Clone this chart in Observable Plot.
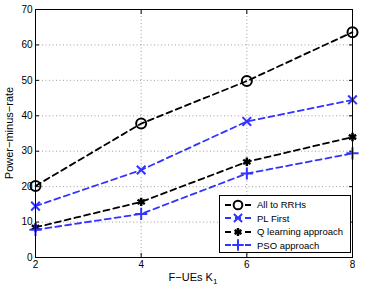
<!DOCTYPE html>
<html><head><meta charset="utf-8">
<script src="https://cdn.jsdelivr.net/npm/d3@7"></script>
<script src="https://cdn.jsdelivr.net/npm/@observablehq/plot@0.6"></script>
<style>
body{margin:0;background:#fff;font-family:"Liberation Sans",Arial,sans-serif;}
#wrap{position:relative;width:374px;height:292px;}
#legend{position:absolute;left:219px;top:195px;width:132px;height:58px;border:1px solid #000;background:#fff;font-size:9.5px;box-sizing:border-box;padding-top:2px;white-space:nowrap}
#legend .row{display:flex;align-items:center;height:13.5px}
#legend svg{margin-left:4px;margin-right:5px;flex:none}
</style></head><body>
<div id="wrap"></div>
<script>
const K = [2, 4, 6, 8];
const seriesNames = ["All to RRHs", "PL First", "Q learning approach", "PSO approach"];
const allToRRHs = [20.2, 37.8, 49.8, 63.6];
const plFirst = [14.5, 24.7, 38.4, 44.5];
const qLearning = [8.5, 15.7, 27.0, 34.0];
const pso = [7.8, 12.3, 23.7, 29.4];
const yTicks = [0, 10, 20, 30, 40, 50, 60, 70];
const xTicks = [2, 4, 6, 8];

const colors = ["#000000", "#3333ff", "#000000", "#3333ff"];
const symbols = ["circle", "times", "asterisk", "plus"];
const allVals = [allToRRHs, plFirst, qLearning, pso];
const data = [];
allVals.forEach((vals, i) => vals.forEach((v, j) => data.push({s: seriesNames[i], k: K[j], v})));

const marks = [
  Plot.gridX(xTicks, {stroke: "#888", strokeOpacity: 1, strokeDasharray: "1,2.5", strokeWidth: 0.8}),
  Plot.gridY(yTicks, {stroke: "#888", strokeOpacity: 1, strokeDasharray: "1,2.5", strokeWidth: 0.8}),
  Plot.axisX(xTicks, {tickSize: -4, tickPadding: 7, fontSize: 10, label: null}),
  Plot.axisX(xTicks, {anchor: "top", tickSize: -4, tickFormat: () => "", label: null}),
  Plot.axisY(yTicks, {tickSize: -4, tickPadding: 7, fontSize: 10, label: null}),
  Plot.axisY(yTicks, {anchor: "right", tickSize: -4, tickFormat: () => "", label: null}),
];
seriesNames.forEach((name, i) => {
  const d = data.filter(r => r.s === name);
  marks.push(Plot.line(d, {x: "k", y: "v", stroke: colors[i], strokeWidth: 1.8, strokeDasharray: "6,4"}));
  marks.push(Plot.dot(d, {x: "k", y: "v", symbol: () => symbols[i], stroke: colors[i], strokeWidth: i === 2 ? 2.5 : 2, r: i === 0 ? 5 : 4, fill: i === 2 ? colors[i] : "none"}));
});
marks.push(Plot.frame({stroke: "#000", strokeWidth: 1}));

const chart = Plot.plot({
  width: 374, height: 292,
  marginLeft: 35, marginRight: 22, marginTop: 9, marginBottom: 35,
  style: {fontFamily: "Liberation Sans, Arial, sans-serif", fontSize: "10px", background: "#fff", color: "#000"},
  x: {domain: [2, 8]},
  y: {domain: [0, 70]},
  marks
});
const wrap = document.getElementById("wrap");
wrap.appendChild(chart);

// axis labels
const svg = d3.select(chart);
svg.append("text").attr("x", 193).attr("y", 281).attr("text-anchor", "middle")
  .attr("font-size", 11).attr("font-family", "Liberation Sans, Arial, sans-serif")
  .html('F−UEs K<tspan dy="3" font-size="8">1</tspan>');
svg.append("text").attr("transform", "translate(13,133) rotate(-90)").attr("text-anchor", "middle")
  .attr("font-size", 11).attr("font-family", "Liberation Sans, Arial, sans-serif")
  .text("Power−minus−rate");

// legend
const leg = document.createElement("div");
leg.id = "legend";
const symMap = {circle: d3.symbolCircle, times: d3.symbolTimes, asterisk: d3.symbolAsterisk, plus: d3.symbolPlus};
seriesNames.forEach((name, i) => {
  const row = document.createElement("div");
  row.className = "row";
  const s = d3.create("svg").attr("width", 28).attr("height", 12);
  s.append("line").attr("x1", 1).attr("x2", 27).attr("y1", 6).attr("y2", 6)
    .attr("stroke", colors[i]).attr("stroke-width", 1.8).attr("stroke-dasharray", "6,4");
  const size = i === 0 ? 60 : 45;
  s.append("path").attr("transform", "translate(14,6)").attr("d", d3.symbol(symMap[symbols[i]], size)())
    .attr("stroke", colors[i]).attr("stroke-width", i === 2 ? 2.5 : 2).attr("fill", i === 2 ? colors[i] : (i === 0 ? "#fff" : "#fff"));
  row.appendChild(s.node());
  const t = document.createElement("span");
  t.textContent = name;
  row.appendChild(t);
  leg.appendChild(row);
});
wrap.appendChild(leg);
</script>
</body></html>
